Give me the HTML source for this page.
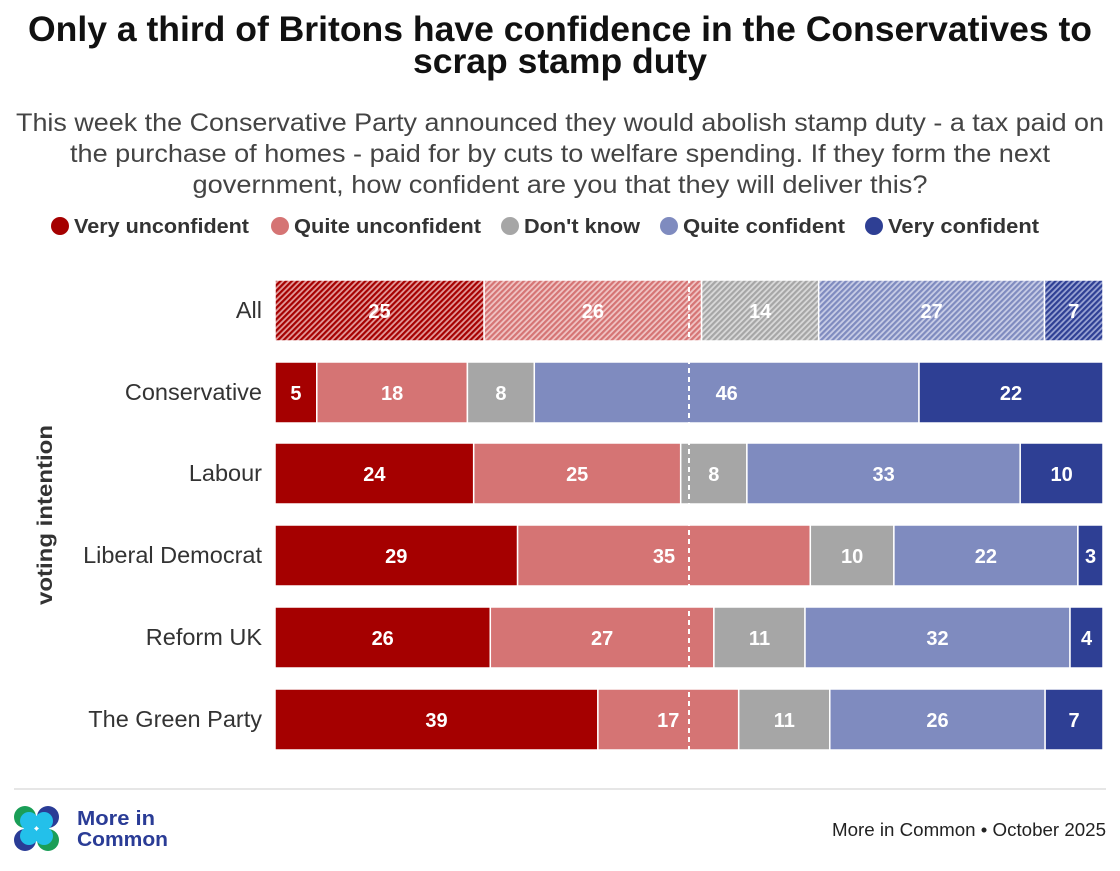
<!DOCTYPE html>
<html><head><meta charset="utf-8"><style>
body{margin:0;background:#fff;}
svg{display:block;font-family:"Liberation Sans",sans-serif;}
</style></head><body>
<svg width="1120" height="871" viewBox="0 0 1120 871" xmlns="http://www.w3.org/2000/svg">
<defs>
<pattern id="h1" width="4" height="4" patternUnits="userSpaceOnUse" patternTransform="rotate(45)"><rect width="4" height="4" fill="#e39a9a"/><rect width="2.2" height="4" fill="#a50000"/></pattern>
<pattern id="h2" width="4" height="4" patternUnits="userSpaceOnUse" patternTransform="rotate(45)"><rect width="4" height="4" fill="#f0c4c4"/><rect width="2.2" height="4" fill="#d57474"/></pattern>
<pattern id="h3" width="4" height="4" patternUnits="userSpaceOnUse" patternTransform="rotate(45)"><rect width="4" height="4" fill="#d9d9d9"/><rect width="2.2" height="4" fill="#a6a6a6"/></pattern>
<pattern id="h4" width="4" height="4" patternUnits="userSpaceOnUse" patternTransform="rotate(45)"><rect width="4" height="4" fill="#c8cde6"/><rect width="2.2" height="4" fill="#7f8bbf"/></pattern>
<pattern id="h5" width="4" height="4" patternUnits="userSpaceOnUse" patternTransform="rotate(45)"><rect width="4" height="4" fill="#9aa4d4"/><rect width="2.2" height="4" fill="#2e3f94"/></pattern>
</defs>
<text x="560" y="41" text-anchor="middle" font-size="35" font-weight="bold" fill="#111" textLength="1064" lengthAdjust="spacingAndGlyphs">Only a third of Britons have confidence in the Conservatives to</text>
<text x="560" y="73" text-anchor="middle" font-size="35" font-weight="bold" fill="#111" textLength="294" lengthAdjust="spacingAndGlyphs">scrap stamp duty</text>
<g font-size="25" fill="#444" text-anchor="middle">
<text x="560" y="131" textLength="1088" lengthAdjust="spacingAndGlyphs">This week the Conservative Party announced they would abolish stamp duty - a tax paid on</text>
<text x="560" y="162" textLength="980" lengthAdjust="spacingAndGlyphs">the purchase of homes - paid for by cuts to welfare spending. If they form the next</text>
<text x="560" y="193" textLength="735" lengthAdjust="spacingAndGlyphs">government, how confident are you that they will deliver this?</text>
</g>
<g font-size="20" font-weight="bold" fill="#333">
<circle cx="60" cy="226" r="9" fill="#a50000"/><text x="74" y="233" textLength="175" lengthAdjust="spacingAndGlyphs">Very unconfident</text>
<circle cx="280" cy="226" r="9" fill="#d57474"/><text x="294" y="233" textLength="187" lengthAdjust="spacingAndGlyphs">Quite unconfident</text>
<circle cx="510" cy="226" r="9" fill="#a6a6a6"/><text x="524" y="233" textLength="116" lengthAdjust="spacingAndGlyphs">Don't know</text>
<circle cx="669" cy="226" r="9" fill="#7f8bbf"/><text x="683" y="233" textLength="162" lengthAdjust="spacingAndGlyphs">Quite confident</text>
<circle cx="874" cy="226" r="9" fill="#2e3f94"/><text x="888" y="233" textLength="151" lengthAdjust="spacingAndGlyphs">Very confident</text>
</g>
<g font-size="23.5" fill="#333" text-anchor="end">
<text x="262" y="318">All</text>
<text x="262" y="400">Conservative</text>
<text x="262" y="481">Labour</text>
<text x="262" y="563">Liberal Democrat</text>
<text x="262" y="645">Reform UK</text>
<text x="262" y="727">The Green Party</text>
</g>
<text transform="translate(52,515) rotate(-90)" text-anchor="middle" font-size="21" font-weight="bold" fill="#333" textLength="180" lengthAdjust="spacingAndGlyphs">voting intention</text>
<g stroke="#fff" stroke-width="1.5">
<rect x="275" y="280" width="209.1" height="61" fill="url(#h1)"/>
<rect x="484.1" y="280" width="217.5" height="61" fill="url(#h2)"/>
<rect x="701.6" y="280" width="117.1" height="61" fill="url(#h3)"/>
<rect x="818.7" y="280" width="225.8" height="61" fill="url(#h4)"/>
<rect x="1044.5" y="280" width="58.5" height="61" fill="url(#h5)"/>

<rect x="275" y="362" width="41.8" height="61" fill="#a50000"/>
<rect x="316.8" y="362" width="150.6" height="61" fill="#d57474"/>
<rect x="467.4" y="362" width="66.9" height="61" fill="#a6a6a6"/>
<rect x="534.3" y="362" width="384.7" height="61" fill="#7f8bbf"/>
<rect x="919" y="362" width="184" height="61" fill="#2e3f94"/>

<rect x="275" y="443" width="198.7" height="61" fill="#a50000"/>
<rect x="473.7" y="443" width="207" height="61" fill="#d57474"/>
<rect x="680.7" y="443" width="66.2" height="61" fill="#a6a6a6"/>
<rect x="746.9" y="443" width="273.3" height="61" fill="#7f8bbf"/>
<rect x="1020.2" y="443" width="82.8" height="61" fill="#2e3f94"/>

<rect x="275" y="525" width="242.6" height="61" fill="#a50000"/>
<rect x="517.6" y="525" width="292.7" height="61" fill="#d57474"/>
<rect x="810.3" y="525" width="83.6" height="61" fill="#a6a6a6"/>
<rect x="893.9" y="525" width="184" height="61" fill="#7f8bbf"/>
<rect x="1077.9" y="525" width="25.1" height="61" fill="#2e3f94"/>

<rect x="275" y="607" width="215.3" height="61" fill="#a50000"/>
<rect x="490.3" y="607" width="223.6" height="61" fill="#d57474"/>
<rect x="713.9" y="607" width="91.1" height="61" fill="#a6a6a6"/>
<rect x="805" y="607" width="265" height="61" fill="#7f8bbf"/>
<rect x="1070" y="607" width="33" height="61" fill="#2e3f94"/>

<rect x="275" y="689" width="322.9" height="61" fill="#a50000"/>
<rect x="597.9" y="689" width="140.8" height="61" fill="#d57474"/>
<rect x="738.7" y="689" width="91.1" height="61" fill="#a6a6a6"/>
<rect x="829.8" y="689" width="215.3" height="61" fill="#7f8bbf"/>
<rect x="1045.1" y="689" width="57.9" height="61" fill="#2e3f94"/>
</g>
<line x1="689" y1="278" x2="689" y2="752" stroke="#fff" stroke-width="2" stroke-dasharray="5,4"/>
<g font-size="20" font-weight="bold" fill="#fff" text-anchor="middle">
<text x="379.5" y="318">25</text><text x="592.9" y="318">26</text><text x="760.2" y="318">14</text><text x="931.6" y="318">27</text><text x="1073.8" y="318">7</text>
<text x="295.9" y="400">5</text><text x="392.1" y="400">18</text><text x="500.9" y="400">8</text><text x="726.7" y="400">46</text><text x="1011" y="400">22</text>
<text x="374.4" y="481">24</text><text x="577.2" y="481">25</text><text x="713.8" y="481">8</text><text x="883.6" y="481">33</text><text x="1061.6" y="481">10</text>
<text x="396.3" y="563">29</text><text x="664" y="563">35</text><text x="852.1" y="563">10</text><text x="985.9" y="563">22</text><text x="1090.5" y="563">3</text>
<text x="382.7" y="645">26</text><text x="602.1" y="645">27</text><text x="759.5" y="645">11</text><text x="937.5" y="645">32</text><text x="1086.5" y="645">4</text>
<text x="436.5" y="727">39</text><text x="668.3" y="727">17</text><text x="784.3" y="727">11</text><text x="937.5" y="727">26</text><text x="1074" y="727">7</text>
</g>
<line x1="14" y1="789" x2="1106" y2="789" stroke="#ddd" stroke-width="1.5"/>
<g>
<circle cx="25" cy="817" r="11" fill="#1a9e57"/><circle cx="48" cy="817" r="11" fill="#2a3c96"/>
<circle cx="25" cy="840" r="11" fill="#2a3c96"/><circle cx="48" cy="840" r="11" fill="#1a9e57"/>
<circle cx="29" cy="821" r="9" fill="#23c0ea"/><circle cx="44" cy="821" r="9" fill="#23c0ea"/>
<circle cx="29" cy="836" r="9" fill="#23c0ea"/><circle cx="44" cy="836" r="9" fill="#23c0ea"/>
</g>
<text x="77" y="825" font-size="20" font-weight="bold" fill="#2a3c96" textLength="78" lengthAdjust="spacingAndGlyphs">More in</text>
<text x="77" y="846" font-size="20" font-weight="bold" fill="#2a3c96" textLength="91" lengthAdjust="spacingAndGlyphs">Common</text>
<text x="1106" y="836" text-anchor="end" font-size="18.5" fill="#222" textLength="274" lengthAdjust="spacingAndGlyphs">More in Common • October 2025</text>
</svg>
</body></html>
